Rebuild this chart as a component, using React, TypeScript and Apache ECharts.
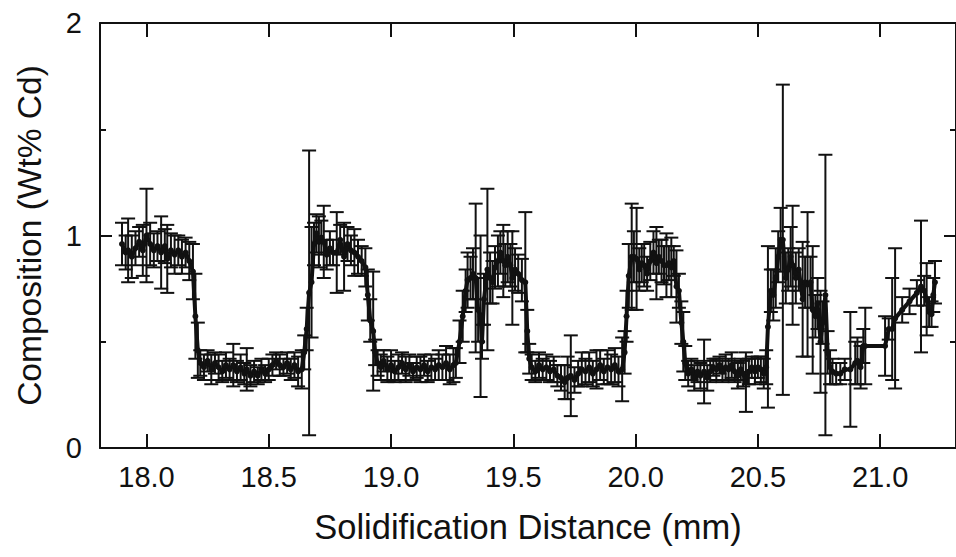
import React, { useEffect, useRef } from "react";
import * as echarts from "echarts";

// Solidification distance (mm)
const xs: number[] = [
  17.900, 17.915, 17.925, 17.940, 17.955, 17.970, 17.985, 18.000, 18.015, 18.030,
  18.045, 18.060, 18.075, 18.085, 18.100, 18.115, 18.130, 18.145, 18.160, 18.175,
  18.190, 18.200, 18.210, 18.220,
  18.235, 18.250, 18.265, 18.280, 18.295, 18.310, 18.325, 18.340, 18.355, 18.370,
  18.385, 18.400, 18.410, 18.425, 18.440, 18.455, 18.470, 18.485, 18.500, 18.515,
  18.530, 18.545, 18.560, 18.575, 18.590, 18.605, 18.620, 18.635,
  18.645, 18.655, 18.665, 18.675,
  18.685, 18.695, 18.705, 18.715, 18.725, 18.737, 18.750, 18.763, 18.778, 18.792,
  18.808, 18.822, 18.836, 18.850, 18.865, 18.880, 18.895, 18.905, 18.915, 18.927,
  18.935, 18.945,
  18.958, 18.970, 18.985, 19.000, 19.015, 19.030, 19.045, 19.060, 19.075, 19.090,
  19.105, 19.120, 19.135, 19.150, 19.165, 19.180, 19.195, 19.210, 19.225, 19.240,
  19.255,
  19.265, 19.280, 19.293, 19.305, 19.313, 19.325, 19.335, 19.346, 19.356, 19.366,
  19.372, 19.380, 19.394, 19.405, 19.415, 19.425, 19.437, 19.447, 19.459, 19.467,
  19.477, 19.488, 19.496, 19.507, 19.520, 19.535, 19.549, 19.557, 19.565,
  19.575, 19.590, 19.605, 19.620, 19.635, 19.650, 19.665, 19.680, 19.695, 19.710,
  19.722, 19.735, 19.750, 19.765, 19.780, 19.795, 19.810, 19.825, 19.840, 19.855,
  19.870, 19.885, 19.900, 19.915, 19.930, 19.945,
  19.955, 19.963, 19.972, 19.984, 19.993, 20.004, 20.015, 20.025, 20.035, 20.047,
  20.060, 20.073, 20.085, 20.095, 20.106, 20.116, 20.126, 20.136, 20.146, 20.156,
  20.167, 20.177, 20.187, 20.195, 20.203,
  20.215, 20.228, 20.240, 20.253, 20.265, 20.280, 20.293, 20.305, 20.318, 20.330,
  20.343, 20.355, 20.368, 20.380, 20.393, 20.405, 20.418, 20.430, 20.440, 20.451,
  20.463, 20.475, 20.488, 20.500, 20.512, 20.524,
  20.534, 20.541, 20.553, 20.563, 20.573, 20.583, 20.593, 20.602, 20.614, 20.624,
  20.634, 20.642, 20.655, 20.667, 20.683, 20.693, 20.703, 20.715, 20.724, 20.735,
  20.744, 20.756, 20.764, 20.776, 20.785,
  20.795, 20.805, 20.820, 20.837, 20.855, 20.878, 20.898, 20.907, 20.920, 20.931,
  20.939, 21.020, 21.035, 21.049, 21.061, 21.090, 21.120, 21.150, 21.167, 21.180,
  21.190, 21.200, 21.210, 21.217, 21.224,
];

// Composition (Wt% Cd)
const ys: number[] = [
  0.96, 0.92, 0.93, 0.90, 0.94, 0.97, 0.93, 1.00, 0.96, 0.93,
  0.95, 0.92, 0.95, 0.89, 0.93, 0.91, 0.93, 0.90, 0.92, 0.88,
  0.83, 0.62, 0.46, 0.40,
  0.38, 0.41, 0.37, 0.40, 0.38, 0.36, 0.39, 0.37, 0.39, 0.36,
  0.38, 0.35, 0.37, 0.34, 0.36, 0.34, 0.37, 0.35, 0.37, 0.39,
  0.41, 0.39, 0.38, 0.40, 0.37, 0.39, 0.36, 0.37,
  0.45, 0.56, 0.73, 0.78,
  0.96, 1.01, 0.97, 0.99, 0.97, 0.91, 0.94, 0.92, 0.92, 0.98,
  0.90, 0.96, 0.93, 0.92, 0.90, 0.88, 0.85, 0.72, 0.60, 0.55,
  0.45, 0.40,
  0.38, 0.41, 0.37, 0.39, 0.36, 0.38, 0.40, 0.37, 0.39, 0.36,
  0.38, 0.37, 0.39, 0.36, 0.38, 0.37, 0.39, 0.38, 0.40, 0.37,
  0.39,
  0.40, 0.50, 0.62, 0.74, 0.79, 0.80, 0.82, 0.80, 0.65, 0.62,
  0.50, 0.70, 0.84, 0.80, 0.78, 0.85, 0.88, 0.92, 0.88, 0.86,
  0.90, 0.86, 0.80, 0.84, 0.82, 0.79, 0.78, 0.55, 0.42,
  0.38, 0.36, 0.39, 0.37, 0.38, 0.36, 0.37, 0.34, 0.33, 0.31,
  0.33, 0.34, 0.32, 0.35, 0.37, 0.36, 0.38, 0.35, 0.37, 0.39,
  0.36, 0.38, 0.37, 0.39, 0.36, 0.37,
  0.45, 0.62, 0.81, 0.90, 0.90, 0.89, 0.84, 0.87, 0.86, 0.82,
  0.88, 0.92, 0.87, 0.90, 0.88, 0.86, 0.86, 0.87, 0.85, 0.88,
  0.76, 0.74, 0.59, 0.50, 0.40,
  0.35, 0.37, 0.33, 0.36, 0.34, 0.36, 0.33, 0.36, 0.38, 0.37,
  0.39, 0.36, 0.38, 0.37, 0.39, 0.36, 0.34, 0.37, 0.35, 0.31,
  0.36, 0.38, 0.36, 0.38, 0.37, 0.35,
  0.38, 0.57, 0.74, 0.72, 0.80, 0.90, 0.98, 0.98, 0.80, 0.84,
  0.90, 0.86, 0.80, 0.84, 0.70, 0.78, 0.77, 0.78, 0.65, 0.62,
  0.68, 0.50, 0.59, 0.72, 0.45,
  0.38, 0.36, 0.35, 0.35, 0.37, 0.37, 0.40, 0.41, 0.38, 0.48,
  0.48, 0.48, 0.56, 0.56, 0.61, 0.65, 0.69, 0.73, 0.76, 0.74,
  0.70, 0.64, 0.63, 0.72, 0.78,
];

// Error bar half-widths (Wt% Cd)
const errs: number[] = [
  0.10, 0.08, 0.15, 0.10, 0.08, 0.07, 0.12, 0.22, 0.10, 0.08,
  0.07, 0.17, 0.08, 0.16, 0.08, 0.09, 0.07, 0.08, 0.07, 0.09,
  0.13, 0.20, 0.13, 0.06,
  0.06, 0.05, 0.07, 0.05, 0.06, 0.05, 0.06, 0.05, 0.10, 0.05,
  0.06, 0.05, 0.10, 0.05, 0.05, 0.04, 0.05, 0.04, 0.05, 0.05,
  0.04, 0.05, 0.04, 0.05, 0.05, 0.06, 0.07, 0.09,
  0.08, 0.10, 0.67, 0.26,
  0.10, 0.09, 0.12, 0.08, 0.17, 0.07, 0.08, 0.06, 0.19, 0.07,
  0.16, 0.08, 0.07, 0.11, 0.08, 0.07, 0.09, 0.12, 0.10, 0.28,
  0.06, 0.06,
  0.06, 0.05, 0.06, 0.07, 0.05, 0.06, 0.05, 0.06, 0.05, 0.04,
  0.05, 0.06, 0.05, 0.05, 0.06, 0.05, 0.07, 0.06, 0.08, 0.07,
  0.08,
  0.07, 0.10, 0.12, 0.10, 0.13, 0.10, 0.12, 0.35, 0.15, 0.38,
  0.08, 0.12, 0.38, 0.12, 0.10, 0.10, 0.12, 0.10, 0.17, 0.10,
  0.12, 0.10, 0.22, 0.10, 0.09, 0.10, 0.33, 0.10, 0.07,
  0.06, 0.05, 0.06, 0.05, 0.06, 0.05, 0.06, 0.05, 0.06, 0.08,
  0.10, 0.19, 0.06, 0.06, 0.08, 0.06, 0.07, 0.06, 0.09, 0.07,
  0.06, 0.08, 0.07, 0.08, 0.07, 0.15,
  0.10, 0.12, 0.15, 0.25, 0.12, 0.24, 0.10, 0.09, 0.10, 0.08,
  0.09, 0.10, 0.17, 0.08, 0.10, 0.09, 0.15, 0.08, 0.14, 0.07,
  0.17, 0.08, 0.10, 0.14, 0.08,
  0.06, 0.05, 0.06, 0.05, 0.06, 0.15, 0.06, 0.05, 0.04, 0.05,
  0.04, 0.05, 0.06, 0.05, 0.06, 0.05, 0.06, 0.05, 0.06, 0.14,
  0.06, 0.05, 0.06, 0.05, 0.06, 0.07,
  0.08, 0.38, 0.10, 0.12, 0.14, 0.12, 0.15, 0.73, 0.12, 0.10,
  0.14, 0.28, 0.12, 0.10, 0.27, 0.12, 0.34, 0.12, 0.30, 0.10,
  0.12, 0.24, 0.10, 0.66, 0.10,
  0.08, 0.06, 0.05, 0.05, 0.05, 0.27, 0.10, 0.11, 0.10, 0.08,
  0.18, 0.14, 0.05, 0.24, 0.33, 0.06, 0.06, 0.06, 0.31, 0.07,
  0.17, 0.07, 0.06, 0.08, 0.10,
];

const xTicks: number[] = [18.0, 18.5, 19.0, 19.5, 20.0, 20.5, 21.0];

const FONT = "'Liberation Sans', Arial, sans-serif";
const INK = "#111";

export default function App() {
  const ref = useRef<HTMLDivElement>(null);

  useEffect(() => {
    if (!ref.current) return;
    const chart = echarts.init(ref.current, undefined, { renderer: "svg" });

    const lineData = xs.map((x, i) => [x, ys[i]]);
    const errData = xs.map((x, i) => [x, ys[i] - errs[i], ys[i] + errs[i]]);

    const axisLine = { show: true, onZero: false, lineStyle: { color: INK, width: 2 } };
    const tickStyle = { color: INK, width: 2 };

    const option: any = {
      animation: false,
      backgroundColor: "#fff",
      grid: { left: 100, top: 23, width: 861, height: 425, containLabel: false },
      xAxis: [
        {
          type: "value",
          min: 17.81,
          max: 21.31,
          position: "bottom",
          axisLine,
          axisTick: { show: true, inside: true, length: 14, lineStyle: tickStyle, customValues: xTicks },
          axisLabel: {
            show: true,
            customValues: xTicks,
            formatter: (v: number) => v.toFixed(1),
            fontSize: 29,
            color: INK,
            fontFamily: FONT,
            margin: 14,
          },
          splitLine: { show: false },
          name: "Solidification Distance (mm)",
          nameLocation: "middle",
          nameGap: 61,
          nameTextStyle: { fontSize: 34.5, color: INK, fontFamily: FONT },
        },
        {
          type: "value",
          min: 17.81,
          max: 21.31,
          position: "top",
          axisLine,
          axisTick: { show: true, inside: true, length: 14, lineStyle: tickStyle, customValues: xTicks },
          axisLabel: { show: false },
          splitLine: { show: false },
        },
      ],
      yAxis: [
        {
          type: "value",
          min: 0,
          max: 2,
          interval: 1,
          position: "left",
          axisLine,
          axisTick: { show: true, inside: true, length: 12, lineStyle: tickStyle },
          minorTick: { show: true, splitNumber: 2, length: 6, lineStyle: tickStyle },
          axisLabel: { fontSize: 29, color: INK, fontFamily: FONT, margin: 18 },
          splitLine: { show: false },
          name: "Composition (Wt% Cd)",
          nameLocation: "middle",
          nameGap: 54,
          nameRotate: 90,
          nameTextStyle: { fontSize: 33.5, color: INK, fontFamily: FONT },
        },
        {
          type: "value",
          min: 0,
          max: 2,
          interval: 1,
          position: "right",
          axisLine,
          axisTick: { show: true, inside: true, length: 12, lineStyle: tickStyle },
          minorTick: { show: true, splitNumber: 2, length: 6, lineStyle: tickStyle },
          axisLabel: { show: false },
          splitLine: { show: false },
        },
      ],
      series: [
        {
          type: "custom",
          xAxisIndex: 0,
          yAxisIndex: 0,
          data: errData,
          encode: { x: 0, y: [1, 2] },
          renderItem: (params: any, api: any) => {
            const x = api.value(0);
            const lo = api.coord([x, api.value(1)]);
            const hi = api.coord([x, api.value(2)]);
            const hw = 7;
            const style = { stroke: INK, lineWidth: 2 };
            return {
              type: "group",
              children: [
                { type: "line", shape: { x1: hi[0], y1: hi[1], x2: lo[0], y2: lo[1] }, style },
                { type: "line", shape: { x1: hi[0] - hw, y1: hi[1], x2: hi[0] + hw, y2: hi[1] }, style },
                { type: "line", shape: { x1: lo[0] - hw, y1: lo[1], x2: lo[0] + hw, y2: lo[1] }, style },
              ],
            };
          },
          z: 2,
        },
        {
          type: "line",
          xAxisIndex: 0,
          yAxisIndex: 0,
          data: lineData,
          showSymbol: true,
          symbol: "circle",
          symbolSize: 6,
          itemStyle: { color: INK },
          lineStyle: { color: INK, width: 4 },
          z: 3,
        },
      ],
    };

    chart.setOption(option);
    return () => chart.dispose();
  }, []);

  return (
    <div
      ref={ref}
      style={{ position: "fixed", left: 0, top: 0, width: 956, height: 557, background: "#fff" }}
    />
  );
}
